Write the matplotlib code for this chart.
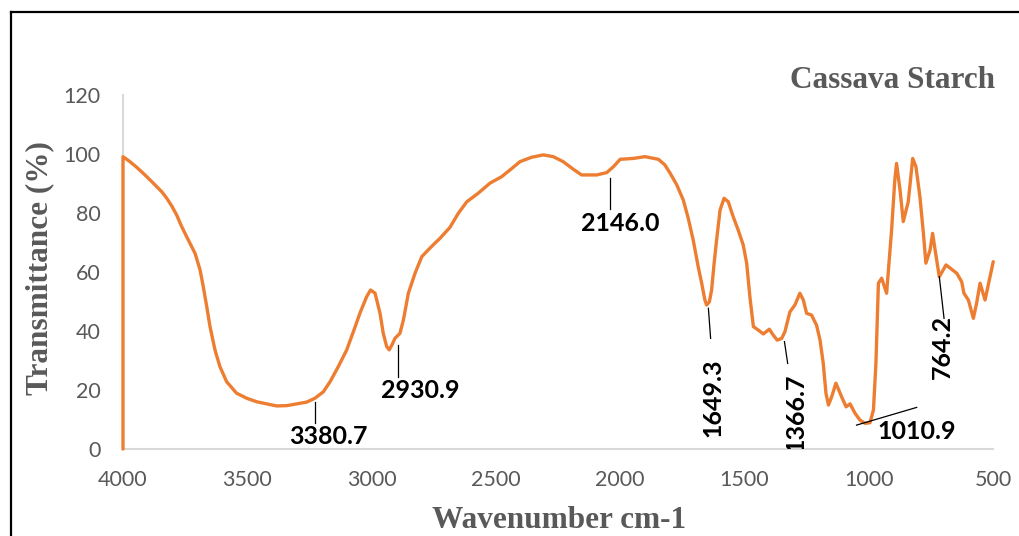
import matplotlib
matplotlib.use("Agg")
import matplotlib.pyplot as plt
from matplotlib.lines import Line2D

# ---- data ----
wavenumber = [4000, 4000, 3972, 3945, 3918, 3891, 3871, 3844, 3824, 3804, 3784, 3764, 3737,
              3710, 3690, 3677, 3663, 3650, 3630, 3610, 3583, 3543, 3502, 3462, 3422, 3382,
              3341, 3301, 3261, 3228, 3194, 3167, 3134, 3100, 3073, 3047, 3020, 3004, 2986,
              2966, 2953, 2939, 2929, 2915, 2906, 2886, 2872, 2852, 2825, 2798, 2772, 2752,
              2725, 2685, 2651, 2617, 2571, 2524, 2477, 2443, 2403, 2356, 2309, 2269, 2229,
              2188, 2155, 2094, 2054, 2027, 2000, 1947, 1900, 1846, 1820, 1799, 1772, 1746,
              1726, 1706, 1686, 1672, 1659, 1652, 1641, 1632, 1622, 1612, 1598, 1582, 1565,
              1545, 1525, 1505, 1491, 1478, 1464, 1444, 1424, 1400, 1384, 1368, 1350, 1337,
              1317, 1297, 1277, 1263, 1250, 1230, 1210, 1196, 1183, 1172, 1162, 1149, 1132,
              1109, 1091, 1075, 1055, 1035, 1015, 995, 981, 971, 961, 948, 928, 908, 895, 888,
              874, 861, 841, 823, 810, 794, 780, 770, 753, 743, 733, 716, 689, 646, 626, 617,
              599, 579, 566, 552, 532, 499]
transmittance = [0, 99.1, 97.4, 95.5, 93.4, 91.2, 89.5, 87.2, 85.0, 82.4, 79.3, 75.4, 70.8,
                 66.3, 60.7, 55.0, 48.2, 41.5, 33.6, 27.9, 22.8, 18.9, 17.2, 16.0, 15.3, 14.6,
                 14.7, 15.3, 15.9, 17.2, 19.4, 22.8, 27.9, 33.6, 39.8, 46.0, 51.6, 53.9, 52.8,
                 46.0, 39.2, 34.7, 33.6, 35.8, 37.5, 39.2, 43.7, 52.8, 59.6, 65.2, 67.5, 69.2,
                 71.4, 75.1, 79.9, 83.8, 86.7, 90.1, 92.3, 94.6, 97.4, 98.9, 99.7, 99.1, 97.4,
                 94.8, 92.9, 92.9, 93.7, 95.7, 98.2, 98.5, 99.1, 98.2, 96.3, 93.5, 89.5, 84.4,
                 78.2, 70.8, 61.8, 56.2, 50.5, 48.8, 49.9, 53.9, 62.9, 70.8, 81.0, 85.0, 83.8,
                 78.7, 74.2, 69.2, 63.0, 51.6, 41.5, 40.3, 39.0, 40.6, 38.6, 36.9, 37.5, 39.8,
                 46.5, 48.8, 52.8, 50.5, 46.0, 45.4, 42.0, 37.0, 29.1, 18.9, 14.9, 17.7, 22.3,
                 17.7, 14.3, 15.3, 12.1, 9.8, 8.7, 8.9, 13.2, 29.1, 56.2, 57.9, 52.8, 74.2, 91.2, 96.8,
                 87.8, 77.1, 83.8, 98.5, 95.7, 85.5, 73.1, 63.0, 67.5, 73.1, 67.5, 58.4, 62.4, 59.6, 56.7, 52.8,
                 50.5, 44.3, 49.4, 56.2, 50.5, 63.5]

x_ticks = [4000, 3500, 3000, 2500, 2000, 1500, 1000, 500]
y_ticks = [0, 20, 40, 60, 80, 100, 120]

peak_labels = ["3380.7", "2930.9", "2146.0", "1649.3", "1366.7", "1010.9", "764.2"]
label_pos = [(3175, 4.4), (2805, 19.7), (1998, 76.3), (1626, 17.5), (1293, 12.2), (807, 6.1), (703, 34.7)]
label_rot = [0, 0, 0, 90, 90, 0, 90]
leader_from = [(3228, 16.0), (2892, 35.2), (2041, 91.8), (1645, 47.7), (1339, 36.4), (1049, 8.1), (716, 58.4)]
leader_to = [(3228, 8.8), (2892, 24.5), (2041, 81.2), (1636, 37.5), (1326, 29.0), (807, 14.1), (697, 44.3)]

title = "Cassava Starch"
xlabel = "Wavenumber cm-1"
ylabel = "Transmittance (%)"

# ---- figure ----
W, H = 1019, 536
fig = plt.figure(figsize=(W / 100, H / 100), dpi=100)
ax = fig.add_axes([123 / W, 1 - 449 / H, (993 - 123) / W, (449 - 95) / H])

ax.plot(wavenumber, transmittance, color="#ED7D31", lw=2.4, clip_on=False,
        solid_joinstyle="round", solid_capstyle="round", zorder=3)

ax.set_xlim(4000, 500)
ax.set_ylim(0, 120)
ax.set_xticks(x_ticks)
ax.set_yticks(y_ticks)
ax.set_xticklabels([str(t) for t in x_ticks])
ax.set_yticklabels([str(t) for t in y_ticks])
ax.tick_params(length=0, labelsize=15.5, labelcolor="#595959")
ax.tick_params(axis="x", pad=15)
ax.tick_params(axis="y", pad=16)
for lab in ax.get_xticklabels() + ax.get_yticklabels():
    lab.set_fontfamily("Lato")

for s in ["top", "right"]:
    ax.spines[s].set_visible(False)
for s in ["left", "bottom"]:
    ax.spines[s].set_color("#D9D9D9")
    ax.spines[s].set_linewidth(1.5)

for txt, (tx, ty), rot, (x0, y0), (x1, y1) in zip(peak_labels, label_pos, label_rot,
                                                  leader_from, leader_to):
    ax.plot([x0, x1], [y0, y1], color="black", lw=0.9, zorder=4)
    ax.text(tx, ty, txt, rotation=rot, ha="center", va="center", fontsize=18,
            fontweight="bold", family="Lato", color="black", clip_on=True, zorder=5)

fig.text(995 / W, 1 - 80 / H, title, ha="right", va="center", fontsize=22.5,
         fontweight="bold", family="Liberation Serif", color="#595959")
fig.text(559 / W, 1 - 520 / H, xlabel, ha="center", va="center", fontsize=22.5,
         fontweight="bold", family="Liberation Serif", color="#595959")
fig.text(40 / W, 1 - 268 / H, ylabel, ha="center", va="center", rotation=90, fontsize=22.5,
         fontweight="bold", family="Liberation Serif", color="#595959")

# outer frame (top and left edges visible)
fig.add_artist(Line2D([11 / W, 1], [1 - 12 / H, 1 - 12 / H], transform=fig.transFigure,
                      color="black", lw=1.6))
fig.add_artist(Line2D([11 / W, 11 / W], [0, 1 - 12 / H], transform=fig.transFigure,
                      color="black", lw=1.6))

fig.savefig("out.png", dpi=100)
